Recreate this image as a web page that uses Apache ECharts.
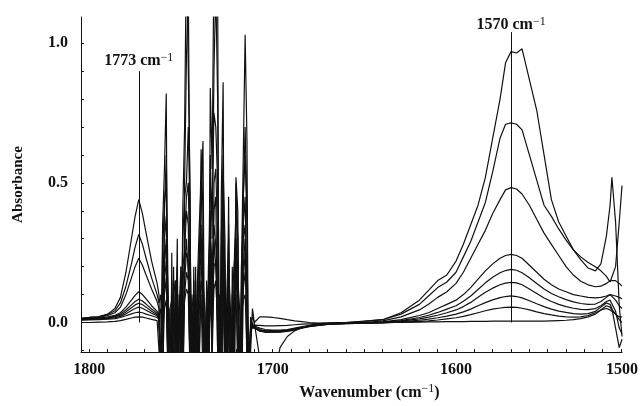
<!DOCTYPE html>
<html>
<head>
<meta charset="utf-8">
<script src="https://cdn.jsdelivr.net/npm/echarts@6/dist/echarts.min.js"></script>
<style>
  html, body { margin: 0; padding: 0; background: #fff; }
  #main { width: 641px; height: 406px; }
</style>
</head>
<body>
<div id="main"></div>
<script>
// wavenumber grid (cm-1), three regions
var wnBand1773 = [1804.5, 1800, 1795, 1790, 1786, 1783, 1780, 1777, 1775, 1773, 1771, 1769, 1766, 1763];
var wnWaterLines = [
  1762, 1761, 1760, 1759, 1758, 1757, 1756, 1755, 1754, 1753, 1752, 1751, 1750,
  1749, 1748, 1747, 1746, 1745, 1744, 1743, 1742, 1741, 1740, 1739, 1738, 1737,
  1736, 1735, 1734, 1733, 1732, 1731, 1730, 1729, 1728, 1727, 1726, 1725, 1724,
  1723, 1722, 1721, 1720, 1719, 1718, 1717, 1716, 1715, 1714, 1713, 1712, 1711
];
var wnBand1570 = [1710, 1707, 1704, 1700, 1696, 1692, 1688, 1684, 1680, 1675, 1670, 1665, 1660,
  1650, 1640, 1630, 1620, 1615, 1610, 1605, 1600, 1596, 1592, 1588, 1584, 1580, 1576, 1573,
  1570, 1567, 1564, 1560, 1556, 1552, 1548, 1544, 1540, 1536, 1532, 1528, 1524, 1521, 1518,
  1516, 1515, 1513, 1511, 1509.5];

// absorbance, one row per spectrum
var band1773 = [
  [0.015, 0.018, 0.02, 0.03, 0.05, 0.09, 0.18, 0.30, 0.38, 0.44, 0.39, 0.32, 0.22, 0.14],
  [0.015, 0.018, 0.02, 0.028, 0.042, 0.07, 0.13, 0.21, 0.27, 0.315, 0.28, 0.23, 0.16, 0.10],
  [0.014, 0.016, 0.018, 0.025, 0.035, 0.055, 0.10, 0.16, 0.20, 0.23, 0.205, 0.17, 0.12, 0.075],
  [0.012, 0.014, 0.016, 0.02, 0.026, 0.035, 0.055, 0.08, 0.097, 0.11, 0.10, 0.085, 0.06, 0.04],
  [0.012, 0.013, 0.015, 0.018, 0.022, 0.03, 0.045, 0.063, 0.075, 0.083, 0.077, 0.066, 0.048, 0.033],
  [0.01, 0.012, 0.013, 0.016, 0.02, 0.026, 0.038, 0.053, 0.063, 0.069, 0.064, 0.055, 0.04, 0.028],
  [0.01, 0.011, 0.012, 0.014, 0.017, 0.022, 0.031, 0.043, 0.05, 0.055, 0.051, 0.044, 0.033, 0.024],
  [0.008, 0.009, 0.01, 0.012, 0.014, 0.018, 0.024, 0.031, 0.035, 0.037, 0.035, 0.03, 0.024, 0.018],
  [0.0, 0.0, 0.001, 0.002, 0.004, 0.007, 0.011, 0.016, 0.019, 0.02, 0.019, 0.016, 0.011, 0.007]
];

var waterLines = [
  [0.10, -0.25, 0.35, 0.55, 0.82, -0.5, -0.7, 0.25, -0.6, -0.2, 0.3, -0.8, -0.3,
   0.4, 0.7, 1.35, 1.35, 0.45, -0.8, 0.15, -0.7, -0.2, 0.2, 0.62, 0.4, -0.8,
   0.1, -0.5, 0.84, 0.55, 1.3, 1.4, 1.25, -0.8, 0.45, 0.86, -0.6, -0.2, 0.45,
   -0.8, 0.1, -0.5, 0.52, 0.4, -0.8, 0.2, 0.6, 1.03, 0.65, -0.5, -0.1, 0.05],
  [0.07, 0.1, -0.3, 0.4, 0.6, 0.1, -0.6, -0.3, 0.2, -0.7, 0.1, -0.4, 0.2,
   -0.6, 0.5, 0.95, 1.2, 0.3, -0.2, -0.7, 0.2, -0.5, 0.1, 0.45, 0.65, -0.3,
   -0.7, 0.1, 0.6, 0.3, 0.9, 1.2, 0.8, -0.2, -0.7, 0.55, 0.3, -0.6, 0.35,
   -0.3, -0.7, 0.2, 0.4, 0.3, -0.2, -0.7, 0.45, 0.7, 0.4, -0.6, 0.0, 0.02],
  [0.05, -0.2, 0.25, 0.43, 0.5, -0.4, -0.3, 0.15, -0.5, 0.05, 0.2, -0.6, -0.1,
   0.3, 0.45, 0.5, 0.7, 0.35, -0.6, 0.1, -0.4, 0.15, 0.35, 0.5, 0.2, -0.6,
   0.05, -0.3, 0.5, 0.4, 0.75, 0.7, 0.5, -0.5, 0.3, 0.6, -0.4, 0.1, 0.3,
   -0.6, 0.2, -0.3, 0.5, 0.3, -0.5, 0.1, 0.45, 0.6, 0.35, -0.4, -0.05, 0.0],
  [0.03, -0.3, 0.15, 0.3, 0.38, -0.2, -0.5, 0.1, -0.3, 0.15, -0.4, 0.05, 0.2,
   -0.3, 0.3, 0.45, 0.5, 0.1, -0.4, 0.2, -0.3, 0.1, 0.25, 0.35, -0.1, -0.5,
   0.15, 0.05, 0.4, -0.2, 0.5, 0.55, 0.3, -0.4, 0.25, 0.45, 0.1, -0.5, 0.2,
   0.05, -0.4, 0.15, 0.35, -0.2, -0.5, 0.2, 0.35, 0.45, 0.1, -0.3, 0.0, -0.01],
  [0.025, 0.05, -0.3, 0.2, 0.3, 0.1, -0.4, -0.1, 0.15, -0.35, 0.1, -0.2, -0.5,
   0.2, 0.25, 0.4, 0.35, -0.1, 0.1, -0.4, 0.15, -0.2, 0.2, 0.3, 0.1, -0.4,
   -0.2, 0.2, 0.35, 0.1, 0.4, 0.45, -0.1, 0.1, -0.4, 0.35, 0.2, -0.3, 0.25,
   -0.4, 0.1, 0.2, 0.3, 0.1, -0.4, 0.1, 0.3, 0.35, -0.2, -0.3, 0.02, -0.015],
  [0.02, -0.2, 0.1, 0.25, 0.28, -0.3, 0.05, -0.35, 0.1, 0.15, -0.3, 0.1, -0.2,
   0.15, 0.2, 0.3, 0.3, 0.05, -0.3, 0.1, -0.35, 0.05, 0.15, 0.25, 0.2, -0.3,
   0.1, -0.25, 0.3, 0.2, 0.35, 0.35, 0.2, -0.35, 0.15, 0.3, -0.2, 0.05, 0.15,
   -0.35, -0.1, 0.1, 0.25, 0.2, -0.3, -0.1, 0.2, 0.3, 0.15, -0.25, -0.02, -0.02],
  [0.015, 0.02, -0.25, 0.15, 0.22, 0.05, -0.3, 0.1, -0.25, 0.1, 0.05, -0.3, 0.1,
   -0.1, 0.15, 0.25, 0.22, -0.2, 0.05, 0.1, -0.3, 0.1, -0.1, 0.2, 0.15, 0.05,
   -0.3, 0.1, 0.25, -0.15, 0.3, 0.3, 0.1, 0.05, -0.3, 0.25, 0.1, -0.25, 0.1,
   0.1, -0.3, 0.05, 0.2, 0.15, 0.05, -0.3, 0.15, 0.25, 0.1, -0.2, -0.02, -0.015],
  [0.01, -0.15, 0.05, 0.1, 0.16, -0.2, 0.05, 0.08, -0.2, 0.05, -0.15, 0.05, 0.08,
   -0.2, 0.1, 0.18, 0.15, -0.15, 0.05, -0.2, 0.05, 0.08, -0.15, 0.15, 0.1, -0.2,
   0.05, -0.15, 0.18, 0.05, 0.2, 0.22, -0.1, -0.2, 0.1, 0.18, -0.15, 0.05, 0.1,
   -0.2, 0.05, -0.1, 0.15, 0.1, -0.2, 0.05, 0.12, 0.18, 0.05, -0.15, -0.02, -0.01],
  [0.005, -0.2, -0.05, 0.05, 0.08, -0.15, -0.3, 0.02, 0.05, -0.25, -0.05, 0.03, -0.2,
   0.0, 0.08, 0.12, 0.1, -0.2, -0.1, 0.03, -0.2, 0.0, 0.05, 0.1, -0.2, -0.05,
   0.05, -0.25, 0.1, -0.05, 0.12, 0.15, 0.0, -0.25, -0.05, 0.1, -0.1, -0.25, 0.05,
   0.0, -0.2, 0.02, 0.1, -0.15, -0.05, 0.03, 0.08, 0.1, -0.1, -0.2, -0.03, -0.01]
];

var band1570 = [
  [0.0, -0.13, -0.3, -0.25, -0.09, -0.05, -0.03, -0.018, -0.01, -0.004, -0.002, 0.0, 0.0,
   0.005, 0.01, 0.035, 0.08, 0.115, 0.15, 0.17, 0.22, 0.28, 0.35, 0.42, 0.52, 0.66, 0.8, 0.93,
   0.97, 0.965, 0.98, 0.87, 0.76, 0.6, 0.44, 0.36, 0.31, 0.26, 0.225, 0.195, 0.185, 0.21, 0.31,
   0.42, 0.52, 0.36, 0.06, -0.05],
  [0.0, 0.02, 0.02, 0.018, 0.015, 0.01, 0.006, 0.003, 0.0, -0.002, -0.002, 0.0, 0.0,
   0.004, 0.01, 0.03, 0.065, 0.095, 0.125, 0.145, 0.18, 0.235, 0.29, 0.36, 0.43, 0.54, 0.66, 0.71,
   0.715, 0.71, 0.69, 0.6, 0.51, 0.42, 0.38, 0.335, 0.295, 0.26, 0.235, 0.215, 0.2, 0.185, 0.165,
   0.145, 0.14, 0.2, 0.36, 0.49],
  [-0.02, -0.03, -0.03, -0.03, -0.03, -0.028, -0.024, -0.018, -0.013, -0.009, -0.006, -0.004, -0.003,
   0.0, 0.006, 0.02, 0.045, 0.065, 0.09, 0.11, 0.14, 0.18, 0.23, 0.28, 0.33, 0.39, 0.44, 0.475,
   0.483, 0.478, 0.46, 0.42, 0.37, 0.32, 0.28, 0.24, 0.2, 0.17, 0.148, 0.135, 0.128, 0.13, 0.14,
   0.15, 0.155, 0.15, 0.14, 0.13],
  [-0.02, -0.03, -0.035, -0.035, -0.035, -0.032, -0.027, -0.02, -0.015, -0.01, -0.007, -0.005, -0.004,
   -0.002, 0.002, 0.01, 0.025, 0.035, 0.05, 0.065, 0.08, 0.1, 0.125, 0.155, 0.185, 0.21, 0.23, 0.24,
   0.244, 0.24, 0.23, 0.205, 0.18, 0.155, 0.135, 0.12, 0.11, 0.1, 0.095, 0.09, 0.088, 0.09, 0.095,
   0.1, 0.1, 0.095, 0.09, 0.085],
  [-0.02, -0.03, -0.035, -0.035, -0.034, -0.03, -0.025, -0.019, -0.014, -0.01, -0.007, -0.005, -0.004,
   -0.002, 0.001, 0.007, 0.018, 0.026, 0.036, 0.048, 0.06, 0.076, 0.095, 0.118, 0.142, 0.162, 0.178, 0.186,
   0.19, 0.187, 0.178, 0.16, 0.14, 0.12, 0.104, 0.092, 0.082, 0.074, 0.068, 0.065, 0.066, 0.075, 0.09,
   0.1, 0.1, 0.08, 0.06, 0.05],
  [-0.02, -0.028, -0.032, -0.033, -0.032, -0.029, -0.024, -0.018, -0.013, -0.009, -0.006, -0.004, -0.003,
   -0.002, 0.0, 0.005, 0.013, 0.019, 0.026, 0.035, 0.045, 0.057, 0.072, 0.09, 0.108, 0.123, 0.135, 0.141,
   0.144, 0.142, 0.135, 0.12, 0.104, 0.088, 0.075, 0.065, 0.057, 0.051, 0.047, 0.046, 0.05, 0.06, 0.075,
   0.08, 0.075, 0.04, -0.02, -0.04],
  [-0.015, -0.025, -0.03, -0.03, -0.03, -0.027, -0.022, -0.017, -0.012, -0.008, -0.006, -0.004, -0.003,
   -0.002, -0.001, 0.003, 0.008, 0.012, 0.017, 0.023, 0.03, 0.038, 0.048, 0.06, 0.071, 0.081, 0.089, 0.093,
   0.095, 0.093, 0.088, 0.078, 0.067, 0.057, 0.048, 0.041, 0.036, 0.032, 0.03, 0.032, 0.04, 0.055, 0.07,
   0.065, 0.05, -0.02, -0.09, -0.06],
  [-0.01, -0.02, -0.025, -0.027, -0.027, -0.025, -0.02, -0.015, -0.011, -0.007, -0.005, -0.004, -0.003,
   -0.002, -0.001, 0.001, 0.004, 0.006, 0.009, 0.013, 0.017, 0.022, 0.028, 0.035, 0.042, 0.048, 0.052, 0.054,
   0.055, 0.054, 0.051, 0.045, 0.038, 0.032, 0.027, 0.023, 0.02, 0.019, 0.02, 0.025, 0.035, 0.045, 0.05,
   0.045, 0.04, 0.03, 0.02, 0.02],
  [-0.005, -0.01, -0.012, -0.012, -0.011, -0.01, -0.008, -0.006, -0.005, -0.004, -0.003, -0.002, -0.002,
   -0.001, 0.0, 0.0, 0.001, 0.002, 0.002, 0.003, 0.003, 0.003, 0.004, 0.004, 0.004, 0.005, 0.005, 0.005,
   0.005, 0.005, 0.005, 0.005, 0.005, 0.005, 0.006, 0.007, 0.008, 0.01, 0.014, 0.02, 0.03, 0.045, 0.06,
   0.055, 0.05, 0.03, 0.01, 0.0]
];

var xMin = 1509.5, xMax = 1804.5;
var xLabels = [1800, 1700, 1600, 1500];
var xTicks = [1510, 1520, 1530, 1540, 1550, 1560, 1570, 1580, 1590, 1600, 1610, 1620, 1630, 1640, 1650,
  1660, 1670, 1680, 1690, 1700, 1710, 1720, 1730, 1740, 1750, 1760, 1770, 1780, 1790, 1800];
var yLabels = [0, 0.5, 1.0];
var yTicks = [-0.1, 0, 0.1, 0.2, 0.3, 0.4, 0.5, 0.6, 0.7, 0.8, 0.9, 1.0];
var peaks = [{ wn: 1773, top: 0.90, gap: 1 }, { wn: 1570, top: 1.04, gap: -2 }];

var serif = 'Liberation Serif';
var ink = '#111';
var wn = wnBand1773.concat(wnWaterLines, wnBand1570);

var series = band1773.map(function (row, k) {
  var values = row.concat(waterLines[k], band1570[k]);
  return {
    type: 'line',
    showSymbol: false,
    silent: true,
    clip: true,
    lineStyle: { color: ink, width: 1.2 },
    data: wn.map(function (w, i) { return [w, values[i]]; })
  };
});

series[0].markLine = {
  silent: true,
  symbol: 'none',
  animation: false,
  lineStyle: { color: ink, width: 1, type: 'solid' },
  label: {
    position: 'end',
    formatter: function (p) { return '{a|' + p.name + ' cm}{s|\u22121}'; },
    rich: {
      a: { fontFamily: serif, fontWeight: 'bold', fontSize: 16, color: ink, lineHeight: 18 },
      s: { fontFamily: serif, fontSize: 12, color: ink, lineHeight: 10, verticalAlign: 'top' }
    }
  },
  data: peaks.map(function (p) {
    return [{ name: String(p.wn), coord: [p.wn, 0], label: { distance: p.gap } }, { coord: [p.wn, p.top] }];
  })
};

var chart = echarts.init(document.getElementById('main'));
chart.setOption({
  animation: false,
  backgroundColor: '#fff',
  grid: { left: 81, right: 14, top: 17, bottom: 53 },
  xAxis: {
    type: 'value',
    inverse: true,
    min: xMin,
    max: xMax,
    name: '{a|Wavenumber (cm}{s|\u22121}{a|)}',
    nameLocation: 'middle',
    nameGap: 30,
    nameTextStyle: {
      padding: [0, 0, 0, 36],
      rich: {
        a: { fontFamily: serif, fontWeight: 'bold', fontSize: 16, color: ink, lineHeight: 20 },
        s: { fontFamily: serif, fontSize: 12, color: ink, lineHeight: 12, verticalAlign: 'top' }
      }
    },
    axisLine: { onZero: false, lineStyle: { color: ink, width: 1 } },
    axisTick: { inside: true, length: 3, customValues: xTicks, lineStyle: { color: ink } },
    axisLabel: {
      customValues: xLabels.map(function (v) { return Math.max(v, xMin); }),
      formatter: function (v) {
        return String(xLabels.filter(function (l) { return Math.max(l, xMin) === v; })[0]);
      },
      margin: 10,
      fontFamily: serif, fontWeight: 'bold', fontSize: 16, color: ink
    },
    splitLine: { show: false }
  },
  yAxis: {
    type: 'value',
    min: -0.106,
    max: 1.094,
    name: 'Absorbance',
    nameLocation: 'middle',
    nameRotate: 90,
    nameGap: 55,
    nameTextStyle: { fontFamily: serif, fontWeight: 'bold', fontSize: 15, color: ink },
    axisLine: { show: true, onZero: false, lineStyle: { color: ink, width: 1 } },
    axisTick: { show: true, inside: true, length: 3, customValues: yTicks, lineStyle: { color: ink } },
    axisLabel: {
      customValues: yLabels,
      formatter: function (v) { return v.toFixed(1); },
      margin: 13,
      fontFamily: serif, fontWeight: 'bold', fontSize: 16, color: ink
    },
    splitLine: { show: false }
  },
  series: series
});
</script>
</body>
</html>
